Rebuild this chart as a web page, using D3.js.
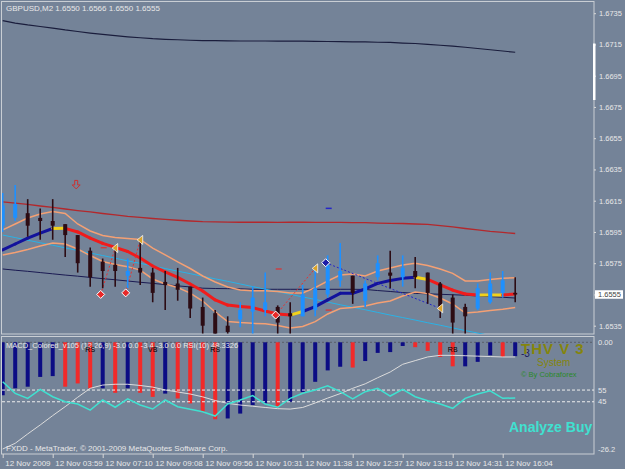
<!DOCTYPE html>
<html>
<head>
<meta charset="utf-8">
<title>GBPUSD,M2</title>
<script src="https://cdn.jsdelivr.net/npm/d3@7/dist/d3.min.js"></script>
<style>
  body { margin: 0; background: #748398; }
  svg { display: block; font-family: "Liberation Sans", Arial, sans-serif; }
</style>
</head>
<body>
<svg width="625" height="469"></svg>
<script>
// values, one entry per bar (42 bars)
const timeLabels = ["12 Nov 2009", "12 Nov 03:59", "12 Nov 07:10", "12 Nov 09:08", "12 Nov 09:56",
    "12 Nov 10:31", "12 Nov 11:38", "12 Nov 12:37", "12 Nov 13:19", "12 Nov 14:31", "12 Nov 16:04"];
const timeLabelBars = [0, 4, 8, 12, 16, 20, 24, 28, 32, 36, 40];
const priceTicks = [1.6735, 1.6715, 1.6695, 1.6675, 1.6655, 1.6635, 1.6615, 1.6595, 1.6575, 1.6555, 1.6535];

const open = [1.6599, 1.6604, 1.6607, 1.6604, 1.6602, 1.6600, 1.6593, 1.6583, 1.6576, 1.6574,
    1.6567, 1.6572, 1.6569, 1.6563, 1.6562, 1.6560, 1.6547, 1.6543, 1.6535, 1.6539,
    1.6544, 1.6545, 1.6547, 1.6543, 1.6541, 1.6545, 1.6555, 1.6564, 1.6567, 1.6551,
    1.6566, 1.6569, 1.6566, 1.6570, 1.6569, 1.6562, 1.6553, 1.6547, 1.6546, 1.6550,
    1.6556, 1.6556];
const high = [1.6620, 1.6625, 1.6616, 1.6610, 1.6616, 1.6600, 1.6593, 1.6585, 1.6578, 1.6585,
    1.6578, 1.6590, 1.6572, 1.6570, 1.6572, 1.6560, 1.6553, 1.6545, 1.6541, 1.6550,
    1.6560, 1.6569, 1.6548, 1.6550, 1.6561, 1.6572, 1.6580, 1.6588, 1.6567, 1.6564,
    1.6580, 1.6583, 1.6580, 1.6579, 1.6569, 1.6563, 1.6555, 1.6549, 1.6562, 1.6569,
    1.6570, 1.6566];
const low = [1.6595, 1.6602, 1.6592, 1.6590, 1.6590, 1.6579, 1.6569, 1.6560, 1.6559, 1.6560,
    1.6559, 1.6561, 1.6550, 1.6545, 1.6551, 1.6540, 1.6530, 1.6530, 1.6530, 1.6534,
    1.6530, 1.6541, 1.6530, 1.6530, 1.6541, 1.6541, 1.6553, 1.6560, 1.6549, 1.6547,
    1.6564, 1.6559, 1.6560, 1.6559, 1.6549, 1.6540, 1.6530, 1.6530, 1.6545, 1.6549,
    1.6553, 1.6550];
const close = [1.6612, 1.6613, 1.6599, 1.6602, 1.6599, 1.6593, 1.6575, 1.6566, 1.6570, 1.6570,
    1.6570, 1.6569, 1.6556, 1.6561, 1.6558, 1.6546, 1.6535, 1.6530, 1.6531, 1.6545,
    1.6553, 1.6550, 1.6537, 1.6541, 1.6555, 1.6559, 1.6574, 1.6570, 1.6556, 1.6562,
    1.6575, 1.6567, 1.6572, 1.6566, 1.6556, 1.6547, 1.6537, 1.6541, 1.6559, 1.6562,
    1.6564, 1.6555];

const slowMA = [1.67302, 1.67287, 1.67275, 1.67265, 1.67255, 1.67243, 1.67233, 1.67223, 1.67214, 1.67206,
    1.67199, 1.67193, 1.67187, 1.67183, 1.67180, 1.67177, 1.67175, 1.67174, 1.67173, 1.67172,
    1.67172, 1.67172, 1.67171, 1.67171, 1.67171, 1.67170, 1.67169, 1.67168, 1.67167, 1.67166,
    1.67164, 1.67163, 1.67159, 1.67156, 1.67151, 1.67145, 1.67139, 1.67132, 1.67124, 1.67116,
    1.67108, 1.67100];
const redMA = [1.66142, 1.66135, 1.66126, 1.66116, 1.66107, 1.66097, 1.66087, 1.66078, 1.66068, 1.66059,
    1.66050, 1.66043, 1.66036, 1.66030, 1.66025, 1.66020, 1.66016, 1.66014, 1.66013, 1.66012,
    1.66012, 1.66012, 1.66011, 1.66012, 1.66012, 1.66011, 1.66011, 1.66011, 1.66010, 1.66010,
    1.66007, 1.66005, 1.66004, 1.66001, 1.65998, 1.65991, 1.65982, 1.65972, 1.65963, 1.65954,
    1.65947, 1.65940];
const baseMA = [1.65713, 1.65705, 1.65698, 1.65690, 1.65682, 1.65674, 1.65667, 1.65659, 1.65651, 1.65644,
    1.65636, 1.65628, 1.65621, 1.65613, 1.65605, 1.65598, 1.65590, 1.65588, 1.65587, 1.65586,
    1.65583, 1.65583, 1.65583, 1.65583, 1.65583, 1.65583, 1.65583, 1.65583, 1.65583, 1.65582,
    1.65575, 1.65569, 1.65562, 1.65557, 1.65554, 1.65551, 1.65548, 1.65545, 1.65540, 1.65536,
    1.65532, 1.65527];
const trendMA = [1.65930, 1.65914, 1.65897, 1.65881, 1.65865, 1.65848, 1.65831, 1.65815, 1.65799, 1.65782,
    1.65765, 1.65749, 1.65732, 1.65716, 1.65699, 1.65683, 1.65666, 1.65650, 1.65634, 1.65617,
    1.65600, 1.65584, 1.65567, 1.65551, 1.65534, 1.65518, 1.65501, 1.65484, 1.65468, 1.65452,
    1.65435, 1.65418, 1.65402, 1.65386, 1.65369, 1.65353, 1.65336, 1.65319, 1.65303, 1.65287,
    1.65270, 1.65253];
const upperBand = [1.65963, 1.66001, 1.66039, 1.66065, 1.66081, 1.66068, 1.66001, 1.65956, 1.65927, 1.65915,
    1.65908, 1.65902, 1.65847, 1.65803, 1.65758, 1.65716, 1.65668, 1.65630, 1.65598, 1.65578,
    1.65574, 1.65574, 1.65569, 1.65559, 1.65559, 1.65594, 1.65636, 1.65674, 1.65681, 1.65668,
    1.65700, 1.65719, 1.65738, 1.65749, 1.65735, 1.65713, 1.65685, 1.65636, 1.65636, 1.65646,
    1.65653, 1.65657];
const lowerBand = [1.65803, 1.65818, 1.65838, 1.65860, 1.65879, 1.65873, 1.65841, 1.65799, 1.65761, 1.65742,
    1.65728, 1.65706, 1.65649, 1.65617, 1.65594, 1.65559, 1.65508, 1.65438, 1.65377, 1.65370,
    1.65365, 1.65363, 1.65351, 1.65335, 1.65345, 1.65376, 1.65425, 1.65460, 1.65466, 1.65476,
    1.65495, 1.65508, 1.65540, 1.65566, 1.65556, 1.65527, 1.65489, 1.65431, 1.65438, 1.65447,
    1.65455, 1.65466];
const midLine = [1.65835, 1.65873, 1.65911, 1.65943, 1.65972, 1.65973, 1.65950, 1.65911, 1.65877, 1.65851,
    1.65825, 1.65783, 1.65732, 1.65694, 1.65659, 1.65617, 1.65572, 1.65515, 1.65482, 1.65473,
    1.65466, 1.65444, 1.65425, 1.65418, 1.65441, 1.65472, 1.65515, 1.65557, 1.65557, 1.65585,
    1.65621, 1.65639, 1.65653, 1.65660, 1.65646, 1.65611, 1.65578, 1.65553, 1.65546, 1.65547,
    1.65546, 1.65553];
// colour of each segment of the middle line: b = up, r = down, y = turning
const midTrend = ["b", "b", "b", "b", "y", "r", "r", "r", "r", "r",
    "r", "r", "r", "r", "r", "r", "r", "r", "r", "r",
    "r", "r", "r", "y", "b", "b", "b", "b", "b", "b",
    "b", "b", "b", "y", "r", "r", "r", "r", "y", "y",
    "r"];

// signal objects
const diamondBar = [8, 10, 22, 26];
const diamondPrice = [1.6555, 1.6556, 1.65418, 1.65753];
const diamondSide = ["sell", "sell", "sell", "buy"];
const flagBar = [9, 11, 25, 35];
const flagPrice = [1.65847, 1.65899, 1.65717, 1.65461];
const dashBar = [8, 22, 26];
const dashPrice = [1.65849, 1.65713, 1.65450];
const arrowBar = 6;
const arrowPrice = 1.66251;
const blueDashBar = 26;
const blueDashPrice = 1.66101;

// sub window
const macdHist = [-13.0, -11.3, -10.9, -8.5, -8.3, -10.9, -10.1, -11.3, -11.3, -12.4,
    -11.3, -12.4, -13.4, -12.6, -13.8, -15.0, -17.1, -18.9, -18.7, -17.5,
    -15.4, -15.0, -15.8, -14.6, -12.2, -9.7, -6.9, -6.0, -6.2, -4.6,
    -2.6, -2.4, -0.9, -1.2, -2.1, -3.6, -5.9, -5.9, -4.8, -3.2,
    -3.6, -3.4];
const macdUp = [1, 1, 1, 1, 1, 0, 0, 0, 1, 0,
    1, 0, 0, 1, 0, 0, 0, 0, 1, 1,
    1, 1, 0, 1, 1, 1, 1, 1, 0, 1,
    1, 1, 1, 0, 0, 0, 0, 1, 1, 1,
    0, 1];
const macdSignal = [-26.2, -24.8, -22.5, -20.3, -18.0, -15.8, -13.5, -11.3, -10.5, -10.3,
    -10.3, -10.6, -11.0, -11.7, -12.2, -12.7, -13.4, -14.3, -15.0, -15.4,
    -15.7, -16.0, -16.3, -16.4, -16.0, -14.9, -13.7, -12.6, -11.3, -10.2,
    -8.7, -7.3, -5.4, -4.5, -3.6, -3.2, -3.2, -3.3, -3.4, -3.5,
    -3.6, -3.6];
const rsi = [62.1, 52.2, 47.9, 55.6, 49.3, 45.0, 43.1, 37.9, 46.5, 40.3,
    47.4, 42.2, 38.8, 46.5, 40.8, 38.5, 36.5, 32.8, 43.1, 46.5,
    50.2, 43.1, 40.3, 47.9, 52.2, 55.0, 58.7, 53.6, 47.4, 53.6,
    56.5, 49.9, 55.6, 49.3, 45.9, 43.1, 39.4, 47.9, 51.6, 54.4,
    47.9, 48.3];
const rsiLevels = [55, 45];
const tagBar = [7, 12, 17, 36];
const tagText = ["RS", "VB", "RS", "RB"];

const svg = d3.select("svg");

const width = 625;
const height = 469;

const frame = { left: 2, right: 594, top: 2, mainBottom: 334, subTop: 337, subBottom: 454 };
const textColor = "#e8e8e8";

const xScale = d3.scaleLinear().domain([0, open.length - 1]).range([2.7, 515.2]);
const yScale = d3.scaleLinear().domain([1.6535, 1.6735]).range([325.7, 13.2]);
const macdScale = d3.scaleLinear().domain([-26.2, 0]).range([449, 342.3]);
const rsiScale = d3.scaleLinear().domain([0, 100]).range([454.4, 337.4]);

const defs = svg.append("defs");
defs.append("clipPath").attr("id", "clip-main").append("rect")
    .attr("x", frame.left).attr("y", frame.top)
    .attr("width", frame.right - frame.left).attr("height", frame.mainBottom - frame.top);
defs.append("clipPath").attr("id", "clip-sub").append("rect")
    .attr("x", frame.left).attr("y", frame.subTop)
    .attr("width", frame.right - frame.left).attr("height", frame.subBottom - frame.subTop);

// frames
svg.append("rect")
    .attr("x", 1.5).attr("y", 1.5)
    .attr("width", frame.right - 1.5).attr("height", frame.mainBottom - 1.5)
    .attr("fill", "none").attr("stroke", "#c9ced4");
svg.append("rect")
    .attr("x", 1.5).attr("y", frame.subTop - 0.5)
    .attr("width", frame.right - 1.5).attr("height", frame.subBottom - frame.subTop + 0.5)
    .attr("fill", "none").attr("stroke", "#c9ced4");

const main = svg.append("g").attr("clip-path", "url(#clip-main)");
const sub = svg.append("g").attr("clip-path", "url(#clip-sub)");

const priceLine = d3.line()
    .x((d, i) => xScale(i))
    .y(d => yScale(d));

const lineStyles = [
    [slowMA, "#1a1d3c", 1.2],
    [redMA, "#b3282c", 1.3],
    [baseMA, "#1a1a52", 1],
    [trendMA, "#2ab2e6", 1],
    [upperBand, "#f4a074", 1.5],
    [lowerBand, "#f4a074", 1.5]
];
lineStyles.forEach(function(s) {
    main.append("path")
        .datum(s[0])
        .attr("d", priceLine)
        .attr("fill", "none")
        .attr("stroke", s[1])
        .attr("stroke-width", s[2]);
});

const trendColor = { b: "#12129c", y: "#f2d21a", r: "#f01c1c" };
main.selectAll(".mid")
    .data(d3.range(midLine.length - 1))
    .join("line")
    .attr("x1", i => xScale(i))
    .attr("y1", i => yScale(midLine[i]))
    .attr("x2", i => xScale(i + 1))
    .attr("y2", i => yScale(midLine[i + 1]))
    .attr("stroke", i => trendColor[midTrend[i]])
    .attr("stroke-width", 3)
    .attr("stroke-linecap", "round");

// dotted links between signal diamonds and flags
main.selectAll(".link")
    .data(d3.range(diamondBar.length))
    .join("line")
    .attr("x1", i => xScale(diamondBar[i]) - 2)
    .attr("y1", i => yScale(diamondPrice[i]))
    .attr("x2", i => xScale(flagBar[i]))
    .attr("y2", i => yScale(flagPrice[i]))
    .attr("stroke", i => diamondSide[i] === "buy" ? "#2424c8" : "#e83030")
    .attr("stroke-width", 1)
    .attr("stroke-dasharray", "2,2");

// candles
const candles = main.selectAll(".candle")
    .data(d3.range(open.length))
    .join("g");

const candleColor = i => close[i] >= open[i] ? "#1e90ff" : "#2c0c14";

candles.append("line")
    .attr("x1", i => xScale(i))
    .attr("x2", i => xScale(i))
    .attr("y1", i => yScale(high[i]))
    .attr("y2", i => yScale(low[i]))
    .attr("stroke", candleColor)
    .attr("stroke-width", 1.6);

candles.append("rect")
    .attr("x", i => xScale(i) - 2)
    .attr("width", 4)
    .attr("y", i => yScale(Math.max(open[i], close[i])))
    .attr("height", i => Math.max(1.5, Math.abs(yScale(open[i]) - yScale(close[i]))))
    .attr("fill", candleColor);

// small level dashes
main.selectAll(".dash")
    .data(dashBar)
    .join("line")
    .attr("x1", (d, i) => xScale(d) - 2)
    .attr("x2", (d, i) => xScale(d) + 4)
    .attr("y1", (d, i) => yScale(dashPrice[i]))
    .attr("y2", (d, i) => yScale(dashPrice[i]))
    .attr("stroke", "#e03030")
    .attr("stroke-width", 1.2);

main.append("line")
    .attr("x1", xScale(blueDashBar) - 2)
    .attr("x2", xScale(blueDashBar) + 4)
    .attr("y1", yScale(blueDashPrice))
    .attr("y2", yScale(blueDashPrice))
    .attr("stroke", "#2626c8")
    .attr("stroke-width", 1.5);

// flags
main.selectAll(".flag")
    .data(flagBar)
    .join("path")
    .attr("transform", (d, i) => `translate(${xScale(d)}, ${yScale(flagPrice[i])})`)
    .attr("d", "M2.5,-4.5 L2.5,4.5 L-3,0 Z")
    .attr("fill", "#dba327")
    .attr("stroke", "#f4f4f4")
    .attr("stroke-width", 0.8);

// diamonds
main.selectAll(".diamond")
    .data(diamondBar)
    .join("path")
    .attr("transform", (d, i) => `translate(${xScale(d) - 2}, ${yScale(diamondPrice[i])})`)
    .attr("d", "M0,-4 L4,0 L0,4 L-4,0 Z")
    .attr("fill", (d, i) => diamondSide[i] === "buy" ? "#1c1ca8" : "#e82828")
    .attr("stroke", "#ffffff")
    .attr("stroke-width", 1);

// hollow down arrow
main.append("path")
    .attr("transform", `translate(${xScale(arrowBar) - 1.5}, ${yScale(arrowPrice)})`)
    .attr("d", "M-1.5,-4.5 L1.5,-4.5 L1.5,0 L4,0 L0,4 L-4,0 L-1.5,0 Z")
    .attr("fill", "none")
    .attr("stroke", "#cc3030")
    .attr("stroke-width", 1);

// header
svg.append("text")
    .attr("x", 6).attr("y", 11)
    .attr("fill", textColor)
    .attr("font-size", 8)
    .text("GBPUSD,M2  1.6550 1.6566 1.6550 1.6555");

// price axis
const yAxis = d3.axisRight(yScale)
    .tickValues(priceTicks)
    .tickFormat(d3.format(".4f"))
    .tickSize(2)
    .tickPadding(3);

const gy = svg.append("g")
    .attr("transform", `translate(${frame.right}, 0)`)
    .call(yAxis);
gy.select(".domain").remove();
gy.attr("font-family", null).attr("font-size", 7.5);
gy.selectAll("line").attr("stroke", "#d8d8d8");
gy.selectAll("text").attr("fill", textColor);

svg.append("rect")
    .attr("x", 593).attr("y", 43.5)
    .attr("width", 2.5).attr("height", 56.5)
    .attr("fill", "#ffffff");

const last = close[close.length - 1];
svg.append("rect")
    .attr("x", 595).attr("y", yScale(last) - 4.2)
    .attr("width", 28).attr("height", 8.5)
    .attr("fill", "#ffffff");
svg.append("text")
    .attr("x", 598).attr("y", yScale(last) + 2.7)
    .attr("fill", "#444444")
    .attr("font-size", 7.5)
    .text(d3.format(".4f")(last));

// ---- sub window: MACD + RSI ----
sub.append("line")
    .attr("x1", frame.left).attr("x2", frame.right)
    .attr("y1", macdScale(0)).attr("y2", macdScale(0))
    .attr("stroke", "#59606a")
    .attr("stroke-dasharray", "2,2");

sub.selectAll(".hist")
    .data(macdHist)
    .join("rect")
    .attr("x", (d, i) => xScale(i) - 2)
    .attr("width", 4)
    .attr("y", macdScale(0))
    .attr("height", d => macdScale(d) - macdScale(0))
    .attr("fill", (d, i) => macdUp[i] ? "#0c0c84" : "#f22a2a");

sub.selectAll(".level")
    .data(rsiLevels)
    .join("line")
    .attr("x1", frame.left).attr("x2", frame.right)
    .attr("y1", d => rsiScale(d)).attr("y2", d => rsiScale(d))
    .attr("stroke", "#eeeeee")
    .attr("stroke-dasharray", "3,2");

sub.append("path")
    .datum(macdSignal)
    .attr("d", d3.line().x((d, i) => xScale(i)).y(d => macdScale(d)))
    .attr("fill", "none")
    .attr("stroke", "#dcdcdc")
    .attr("stroke-width", 1);

sub.append("path")
    .datum(rsi)
    .attr("d", d3.line().x((d, i) => xScale(i)).y(d => rsiScale(d)))
    .attr("fill", "none")
    .attr("stroke", "#40e0d0")
    .attr("stroke-width", 1.5);

// indicator caption sits over the histogram
sub.append("text")
    .attr("x", 6).attr("y", 347.5)
    .attr("fill", textColor)
    .attr("font-size", 7.5)
    .text("MACD_Colored_v105 (12,26,9) -3.0 0.0 -3.4 -3.0 0.0  RSI(10) 48.3326");

sub.selectAll(".tag")
    .data(tagBar)
    .join("text")
    .attr("x", d => xScale(d))
    .attr("y", 352)
    .attr("text-anchor", "middle")
    .attr("fill", "#000000")
    .attr("font-size", 7)
    .text((d, i) => tagText[i]);

sub.append("text")
    .attr("x", 521).attr("y", 356.5)
    .attr("fill", "#1c1c5c")
    .attr("font-size", 10)
    .text("-3");

sub.append("text")
    .attr("x", 521).attr("y", 353.5)
    .attr("fill", "#85850c")
    .attr("font-size", 15)
    .attr("font-weight", "bold")
    .attr("letter-spacing", 1)
    .text("THV V 3");

sub.append("text")
    .attr("x", 537).attr("y", 365.5)
    .attr("fill", "#85850c")
    .attr("font-size", 10)
    .text("System");

sub.append("text")
    .attr("x", 521).attr("y", 377)
    .attr("fill", "#2a8a2a")
    .attr("font-size", 7.5)
    .text("\u00A9 By Cobraforex");

sub.append("text")
    .attr("x", 509).attr("y", 431.5)
    .attr("fill", "#40e0d0")
    .attr("font-size", 14)
    .attr("font-weight", "bold")
    .text("Analyze Buy");

sub.append("text")
    .attr("x", 6).attr("y", 451)
    .attr("fill", textColor)
    .attr("font-size", 8)
    .text("FXDD - MetaTrader, \u00A9 2001-2009 MetaQuotes Software Corp.");

// sub window scale labels
const subLabels = [
    [macdScale(0), "0.00"],
    [rsiScale(rsiLevels[0]), String(rsiLevels[0])],
    [rsiScale(rsiLevels[1]), String(rsiLevels[1])],
    [macdScale(-26.2), "-26.2"]
];
svg.selectAll(".sublabel")
    .data(subLabels)
    .join("text")
    .attr("x", 598)
    .attr("y", d => d[0] + 2.7)
    .attr("fill", textColor)
    .attr("font-size", 7.5)
    .text(d => d[1]);

// time axis
const xAxis = d3.axisBottom(xScale)
    .tickValues(timeLabelBars)
    .tickFormat((d, i) => timeLabels[i])
    .tickSize(4)
    .tickPadding(2);

const gx = svg.append("g")
    .attr("transform", `translate(0, ${frame.subBottom})`)
    .call(xAxis);
gx.select(".domain").remove();
gx.attr("font-family", null).attr("font-size", 8);
gx.selectAll("line").attr("stroke", "#d8d8d8");
gx.selectAll("text")
    .attr("text-anchor", "start")
    .attr("x", 2)
    .attr("fill", textColor);
</script>
</body>
</html>
